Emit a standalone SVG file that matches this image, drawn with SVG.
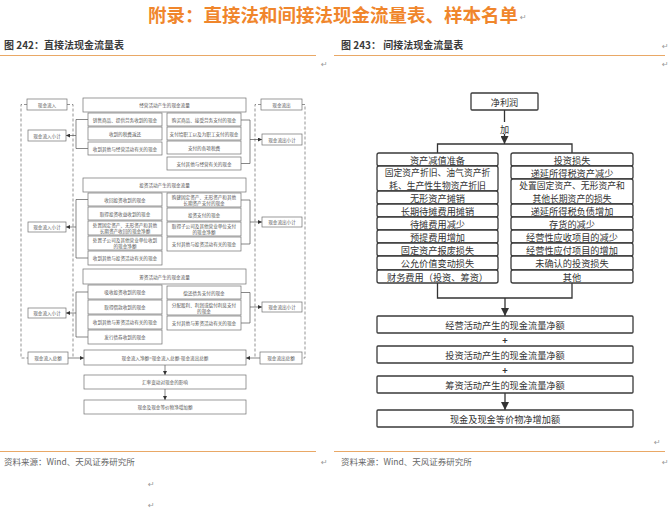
<svg xmlns="http://www.w3.org/2000/svg" width="672" height="513" viewBox="0 0 672 513">
<defs>
<style>
text{font-family:"Noto Sans CJK SC","Liberation Sans",sans-serif;}
.title{font-size:18.5px;font-weight:bold;fill:#F0862C;}
.hd{font-size:10px;font-weight:600;fill:#3a3a3a;}
.src{font-size:8.5px;fill:#666;}
.ret{font-size:8px;fill:#999;font-family:"DejaVu Sans",sans-serif;}
.rule{stroke:#E9A866;stroke-width:1;fill:none;}
.lb{fill:#fff;stroke:#6f6f6f;stroke-width:0.7;}
.lt{font-size:4.6px;fill:#555;text-anchor:middle;dominant-baseline:central;}
.rb{fill:#fff;stroke:#3a3a3a;stroke-width:1.3;}
.rt{font-size:9.2px;fill:#333;text-anchor:middle;dominant-baseline:central;}
.rt2{font-size:8.8px;}
.lc{fill:none;stroke:#555;stroke-width:0.7;}
.ld{fill:none;stroke:#666;stroke-width:0.7;stroke-dasharray:3,2;}
.rc{fill:none;stroke:#333;stroke-width:1.3;}
</style>
<marker id="la" viewBox="0 0 10 10" refX="10" refY="5" markerUnits="userSpaceOnUse" markerWidth="4" markerHeight="4" orient="auto"><path d="M0,0L10,5L0,10z" fill="#333"/></marker>
<marker id="ra" viewBox="0 0 10 10" refX="10" refY="5" markerUnits="userSpaceOnUse" markerWidth="8" markerHeight="8" orient="auto"><path d="M0,0L10,5L0,10z" fill="#333"/></marker>
</defs>
<rect width="672" height="513" fill="#fff"/>

<!-- page text -->
<g id="page">
<text class="title" x="148" y="22">附录：直接法和间接法现金流量表、样本名单</text>
<text class="ret" x="520" y="20">↵</text>
<text class="hd" x="4" y="49">图 242：直接法现金流量表</text>
<text class="hd" x="341" y="49">图 243： 间接法现金流量表</text>
<line class="rule" x1="0" y1="55.5" x2="316" y2="55.5"/>
<line class="rule" x1="334" y1="55.5" x2="665" y2="55.5"/>
<text class="ret" x="321" y="67">↵</text>
<text class="ret" x="662" y="49">↵</text>
<text class="ret" x="662" y="67">↵</text>
<text class="ret" x="654" y="445">↵</text>
<line class="rule" x1="0" y1="451.5" x2="316" y2="451.5"/>
<line class="rule" x1="334" y1="451.5" x2="665" y2="451.5"/>
<text class="src" x="4" y="465">资料来源：Wind、天风证券研究所</text>
<text class="src" x="341" y="465">资料来源：Wind、天风证券研究所</text>
<text class="ret" x="321" y="465">↵</text>
<text class="ret" x="662" y="465">↵</text>
<text class="ret" x="148" y="487">↵</text>
<text class="ret" x="148" y="508">↵</text>
</g>

<!-- left diagram connectors -->
<g id="left-connectors">
<path class="ld" d="M27,104.5H21V358H28"/>
<path class="ld" d="M67,104.5H73V358"/>
<path class="ld" d="M261,104.5H255V358"/>
<path class="ld" d="M302,104.5H305V358H302"/>
<path class="lc" d="M88,119.5H76V148.5H88"/>
<path class="lc" d="M76,135.5H66" marker-end="url(#la)"/>
<path class="lc" d="M241,120H250V163.5H241"/>
<path class="lc" d="M250,139.5H262" marker-end="url(#la)"/>
<path class="lc" d="M88,199.5H76V258H88"/>
<path class="lc" d="M76,227H66" marker-end="url(#la)"/>
<path class="lc" d="M241,200H250V244H241"/>
<path class="lc" d="M250,222H262" marker-end="url(#la)"/>
<path class="lc" d="M88,292H76V337H88"/>
<path class="lc" d="M76,313H66" marker-end="url(#la)"/>
<path class="lc" d="M241,292.5H250V323H241"/>
<path class="lc" d="M250,307H262" marker-end="url(#la)"/>
<path class="lc" d="M68,358H84" marker-end="url(#la)"/>
<path class="lc" d="M260,358H246" marker-end="url(#la)"/>
<path class="lc" d="M165,365V375" marker-end="url(#la)"/>
<path class="lc" d="M165,389V400" marker-end="url(#la)"/>
</g>

<!-- left diagram nodes -->
<g id="l-in"><rect class="lb" x="27" y="99" width="40" height="11"/><text class="lt" x="47" y="104.5">现金流入</text></g>
<g id="l-out"><rect class="lb" x="261" y="99" width="41" height="11"/><text class="lt" x="281.5" y="104.5">现金流出</text></g>

<g id="l-op-h"><rect class="lb" x="83" y="98" width="163" height="14"/><text class="lt" x="164.5" y="105">经营活动产生的现金流量</text></g>
<g id="l-op-1"><rect class="lb" x="88" y="113" width="74" height="13"/><text class="lt" x="125" y="119.5">销售商品、提供劳务收到的现金</text></g>
<g id="l-op-2"><rect class="lb" x="88" y="127" width="74" height="13"/><text class="lt" x="125" y="133.5">收到的税费返还</text></g>
<g id="l-op-3"><rect class="lb" x="88" y="142" width="74" height="13"/><text class="lt" x="125" y="148.5">收到其他与经营活动有关的现金</text></g>
<g id="l-op-4"><rect class="lb" x="167" y="113" width="74" height="13"/><text class="lt" x="204" y="119.5">购买商品、接受劳务支付的现金</text></g>
<g id="l-op-5"><rect class="lb" x="167" y="127" width="74" height="13"/><text class="lt" x="204" y="133.5">支付给职工以及为职工支付的现金</text></g>
<g id="l-op-6"><rect class="lb" x="167" y="141" width="74" height="13"/><text class="lt" x="204" y="147.5">支付的各项税费</text></g>
<g id="l-op-7"><rect class="lb" x="167" y="157" width="74" height="13"/><text class="lt" x="204" y="163.5">支付其他与经营有关的现金</text></g>
<g id="l-op-in"><rect class="lb" x="28" y="130" width="38" height="11"/><text class="lt" x="47" y="135.5">现金流入小计</text></g>
<g id="l-op-out"><rect class="lb" x="262" y="134" width="40" height="11"/><text class="lt" x="282" y="139.5">现金流出小计</text></g>

<g id="l-inv-h"><rect class="lb" x="83" y="178" width="163" height="14"/><text class="lt" x="164.5" y="185">投资活动产生的现金流量</text></g>
<g id="l-inv-1"><rect class="lb" x="88" y="193" width="74" height="13"/><text class="lt" x="125" y="199.5">收回投资收到的现金</text></g>
<g id="l-inv-2"><rect class="lb" x="88" y="207" width="74" height="13"/><text class="lt" x="125" y="213.5">取得投资收益收到的现金</text></g>
<g id="l-inv-3"><rect class="lb" x="88" y="221" width="74" height="14"/><text class="lt" x="125" y="225"><tspan x="125">处置固定资产、无形资产和其他</tspan><tspan x="125" dy="6">长期资产收回的现金净额</tspan></text></g>
<g id="l-inv-4"><rect class="lb" x="88" y="236" width="74" height="14"/><text class="lt" x="125" y="240"><tspan x="125">处置子公司及其他营业单位收到</tspan><tspan x="125" dy="6">的现金净额</tspan></text></g>
<g id="l-inv-5"><rect class="lb" x="88" y="251" width="74" height="14"/><text class="lt" x="125" y="258">收到其他与投资活动有关的现金</text></g>
<g id="l-inv-6"><rect class="lb" x="167" y="193" width="74" height="14"/><text class="lt" x="204" y="197"><tspan x="204">购建固定资产、无形资产和其他</tspan><tspan x="204" dy="6">长期资产支付的现金</tspan></text></g>
<g id="l-inv-7"><rect class="lb" x="167" y="208" width="74" height="13"/><text class="lt" x="204" y="214.5">投资支付的现金</text></g>
<g id="l-inv-8"><rect class="lb" x="167" y="222" width="74" height="14"/><text class="lt" x="204" y="226"><tspan x="204">取得子公司及其他营业单位支付</tspan><tspan x="204" dy="6">的现金净额</tspan></text></g>
<g id="l-inv-9"><rect class="lb" x="167" y="237" width="74" height="14"/><text class="lt" x="204" y="244">支付其他与投资活动有关的现金</text></g>
<g id="l-inv-in"><rect class="lb" x="28" y="222" width="38" height="10"/><text class="lt" x="47" y="227">现金流入小计</text></g>
<g id="l-inv-out"><rect class="lb" x="262" y="217" width="40" height="10"/><text class="lt" x="282" y="222">现金流出小计</text></g>

<g id="l-fin-h"><rect class="lb" x="83" y="269" width="163" height="15"/><text class="lt" x="164.5" y="276.5">筹资活动产生的现金流量</text></g>
<g id="l-fin-1"><rect class="lb" x="88" y="285" width="74" height="14"/><text class="lt" x="125" y="292">吸收投资收到的现金</text></g>
<g id="l-fin-2"><rect class="lb" x="88" y="300" width="74" height="14"/><text class="lt" x="125" y="307">取得借款收到的现金</text></g>
<g id="l-fin-3"><rect class="lb" x="88" y="315" width="74" height="14"/><text class="lt" x="125" y="322">收到其他与筹资活动有关的现金</text></g>
<g id="l-fin-4"><rect class="lb" x="88" y="330" width="74" height="14"/><text class="lt" x="125" y="337">发行债券收到的现金</text></g>
<g id="l-fin-5"><rect class="lb" x="167" y="286" width="74" height="13"/><text class="lt" x="204" y="292.5">偿还债务支付的现金</text></g>
<g id="l-fin-6"><rect class="lb" x="167" y="300" width="74" height="15"/><text class="lt" x="204" y="304.5"><tspan x="204">分配股利、利润或偿付利息支付</tspan><tspan x="204" dy="6">的现金</tspan></text></g>
<g id="l-fin-7"><rect class="lb" x="167" y="316" width="74" height="14"/><text class="lt" x="204" y="323">支付其他与筹资活动有关的现金</text></g>
<g id="l-fin-in"><rect class="lb" x="28" y="308" width="38" height="10"/><text class="lt" x="47" y="313">现金流入小计</text></g>
<g id="l-fin-out"><rect class="lb" x="262" y="302" width="40" height="10"/><text class="lt" x="282" y="307">现金流出小计</text></g>

<g id="l-tot-in"><rect class="lb" x="28" y="352" width="40" height="12"/><text class="lt" x="48" y="358">现金流入总额</text></g>
<g id="l-net"><rect class="lb" x="84" y="350" width="162" height="15"/><text class="lt" x="165" y="357.5">现金流入净额=现金流入总额-现金流出总额</text></g>
<g id="l-tot-out"><rect class="lb" x="260" y="352" width="42" height="12"/><text class="lt" x="281" y="358">现金流出总额</text></g>
<g id="l-fx"><rect class="lb" x="84" y="375" width="162" height="14"/><text class="lt" x="165" y="382">汇率变动对现金的影响</text></g>
<g id="l-end"><rect class="lb" x="84" y="400" width="162" height="14"/><text class="lt" x="165" y="407">现金及现金等价物净增加额</text></g>

<!-- right diagram connectors -->
<g id="right-connectors">
<path class="rc" d="M504.5,110V122"/>
<path class="rc" d="M504.5,134V144" marker-end="url(#ra)"/>
<path class="rc" d="M437.5,153V144H572V153"/>
<path class="rc" d="M437.5,283V298H572V283"/>
<path class="rc" d="M505,298V316" marker-end="url(#ra)"/>
<path class="rc" d="M505,393V410" marker-end="url(#ra)"/>
<text class="rt" x="504.5" y="128.5">加</text>
<text class="rt" x="505" y="339.5" style="font-weight:bold">+</text>
<text class="rt" x="505" y="369.5" style="font-weight:bold">+</text>
</g>

<!-- right diagram nodes -->
<g id="r-np"><rect class="rb" x="471" y="93" width="67" height="17" rx="1"/><text class="rt" x="504.5" y="101.5">净利润</text></g>

<g id="r-l1"><rect class="rb" x="377" y="153" width="121" height="13" rx="2"/><text class="rt" x="437.5" y="159.5">资产减值准备</text></g>
<g id="r-l2"><rect class="rb" x="377" y="166" width="121" height="25" rx="2"/><text class="rt rt2" x="437.5" y="172"><tspan x="437.5">固定资产折旧、油气资产折</tspan><tspan x="437.5" dy="13">耗、生产性生物资产折旧</tspan></text></g>
<g id="r-l3"><rect class="rb" x="377" y="191" width="121" height="13" rx="2"/><text class="rt" x="437.5" y="197.5">无形资产摊销</text></g>
<g id="r-l4"><rect class="rb" x="377" y="204" width="121" height="13" rx="2"/><text class="rt" x="437.5" y="210.5">长期待摊费用摊销</text></g>
<g id="r-l5"><rect class="rb" x="377" y="217" width="121" height="13" rx="2"/><text class="rt" x="437.5" y="223.5">待摊费用减少</text></g>
<g id="r-l6"><rect class="rb" x="377" y="230" width="121" height="13" rx="2"/><text class="rt" x="437.5" y="236.5">预提费用增加</text></g>
<g id="r-l7"><rect class="rb" x="377" y="243" width="121" height="13" rx="2"/><text class="rt" x="437.5" y="249.5">固定资产报废损失</text></g>
<g id="r-l8"><rect class="rb" x="377" y="256" width="121" height="14" rx="2"/><text class="rt" x="437.5" y="263">公允价值变动损失</text></g>
<g id="r-l9"><rect class="rb" x="377" y="270" width="121" height="13" rx="2"/><text class="rt" x="437.5" y="276.5">财务费用（投资、筹资）</text></g>

<g id="r-r1"><rect class="rb" x="511" y="153" width="122" height="13" rx="2"/><text class="rt" x="572" y="159.5">投资损失</text></g>
<g id="r-r2"><rect class="rb" x="511" y="166" width="122" height="13" rx="2"/><text class="rt" x="572" y="172.5">递延所得税资产减少</text></g>
<g id="r-r3"><rect class="rb" x="511" y="179" width="122" height="25" rx="2"/><text class="rt rt2" x="572" y="185"><tspan x="572">处置固定资产、无形资产和</tspan><tspan x="572" dy="13">其他长期资产的损失</tspan></text></g>
<g id="r-r4"><rect class="rb" x="511" y="204" width="122" height="13" rx="2"/><text class="rt" x="572" y="210.5">递延所得税负债增加</text></g>
<g id="r-r5"><rect class="rb" x="511" y="217" width="122" height="13" rx="2"/><text class="rt" x="572" y="223.5">存货的减少</text></g>
<g id="r-r6"><rect class="rb" x="511" y="230" width="122" height="13" rx="2"/><text class="rt" x="572" y="236.5">经营性应收项目的减少</text></g>
<g id="r-r7"><rect class="rb" x="511" y="243" width="122" height="13" rx="2"/><text class="rt" x="572" y="249.5">经营性应付项目的增加</text></g>
<g id="r-r8"><rect class="rb" x="511" y="256" width="122" height="14" rx="2"/><text class="rt" x="572" y="263">未确认的投资损失</text></g>
<g id="r-r9"><rect class="rb" x="511" y="270" width="122" height="13" rx="2"/><text class="rt" x="572" y="276.5">其他</text></g>

<g id="r-op"><rect class="rb" x="377" y="316" width="256" height="17" rx="1"/><text class="rt" x="505" y="324.5">经营活动产生的现金流量净额</text></g>
<g id="r-inv"><rect class="rb" x="377" y="346" width="256" height="17" rx="1"/><text class="rt" x="505" y="354.5">投资活动产生的现金流量净额</text></g>
<g id="r-fin"><rect class="rb" x="377" y="376" width="256" height="17" rx="1"/><text class="rt" x="505" y="384.5">筹资活动产生的现金流量净额</text></g>
<g id="r-end"><rect class="rb" x="377" y="410" width="256" height="17" rx="1"/><text class="rt" x="505" y="418.5">现金及现金等价物净增加额</text></g>
</svg>
